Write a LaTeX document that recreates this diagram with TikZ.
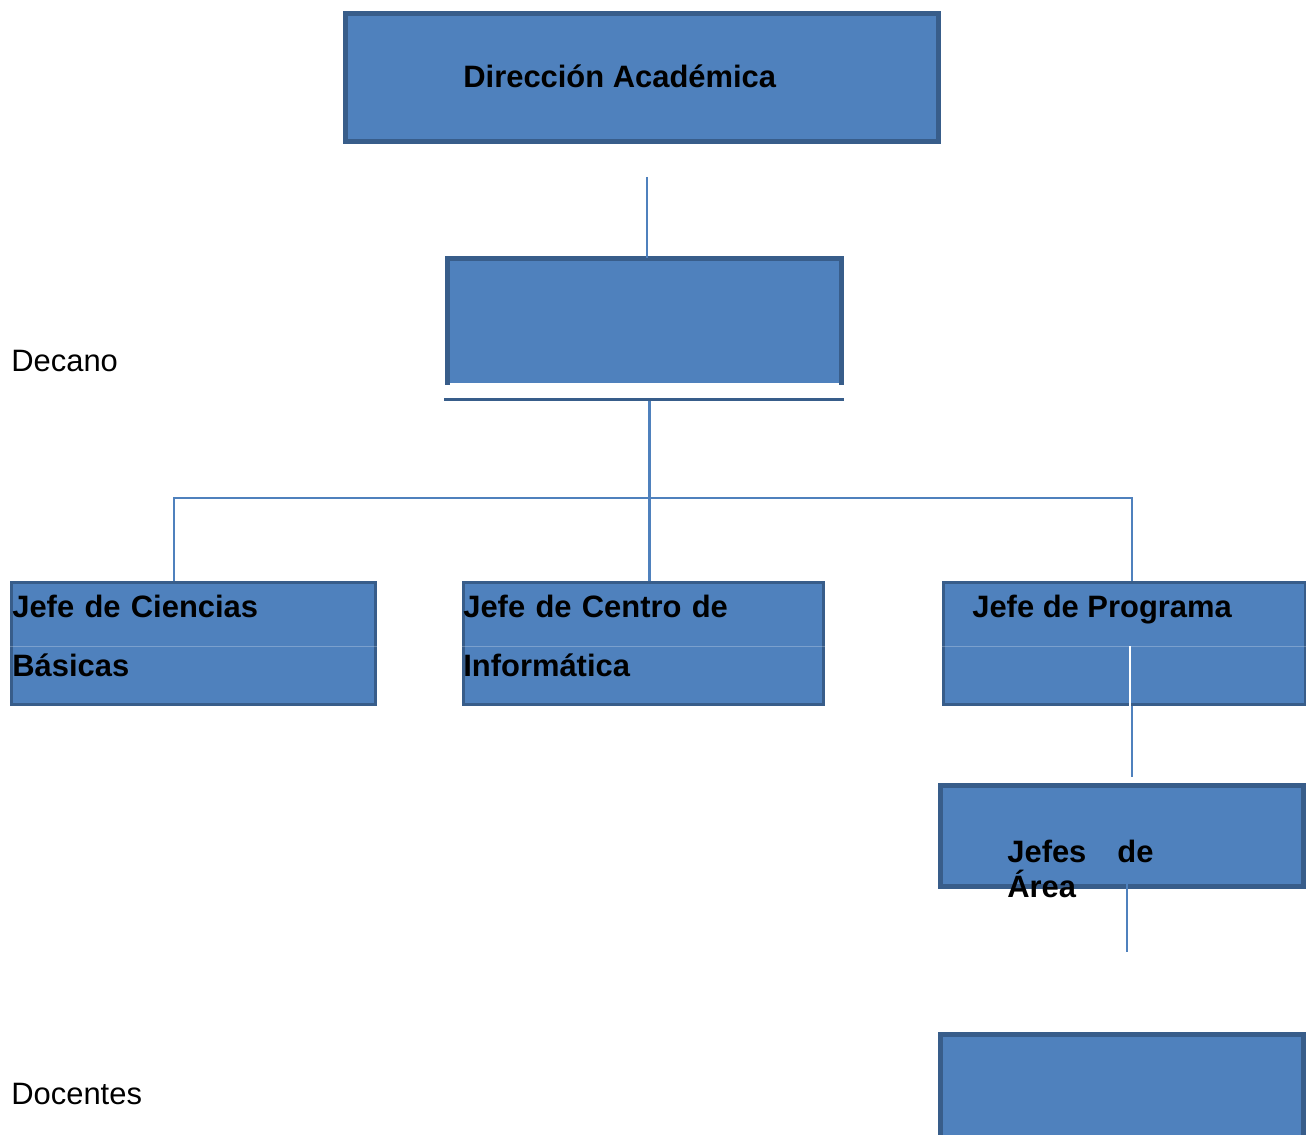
\documentclass[tikz,border=0pt]{standalone}
\usepackage{fontspec}
\setmainfont{Liberation Sans}
\usetikzlibrary{positioning, calc}
\definecolor{unitfill}{RGB}{79,129,189}
\definecolor{unitedge}{RGB}{56,93,138}
\definecolor{linkcolor}{RGB}{79,129,189}

\begin{document}
\begin{tikzpicture}[
    x=0.02cm, y=-0.02cm,
    unit/.style={draw=unitedge, fill=unitfill, line width=#1, inner sep=0pt, line join=miter},
    unit/.default=1.6pt,
    edge/.style={draw=unitedge, line width=2.8pt, line join=miter},
    link/.style={draw=linkcolor, line width=1.2pt},
    gap/.style={draw=white, line width=0.8pt},
    seam/.style={draw=white, opacity=0.25, line width=0.4pt},
    lbl/.style={font=\fontsize{17.6}{33.7}\selectfont\bfseries, inner sep=0pt, align=left, anchor=base west},
    side/.style={font=\fontsize{17.6}{21}\selectfont, inner sep=0pt, anchor=base west}
]
    \path[use as bounding box, clip] (0,0) rectangle (1315,1135);

    % Direccion Academica
    \node[unit=2.8pt, minimum width=11.86cm, minimum height=2.56cm] (dir) at (642,77.5) {};
    \node[lbl] (dirlbl) at (463,88) {Dirección Académica};

    % Decano (open at the bottom, bar below)
    \node[fill=unitfill, inner sep=0pt, minimum width=7.88cm, minimum height=2.49cm] (dec) at (644.5,320.75) {};
    \draw[edge] ([yshift=-0.03cm]dec.south west) -- (dec.north west) -- (dec.north east) -- ([yshift=-0.03cm]dec.south east);
    \coordinate (barL) at (444,399.5);
    \coordinate (barR) at (844,399.5);
    \draw[draw=unitedge, line width=1.4pt] (barL) -- (barR);
    \node[side] (declbl) at (11,371) {Decano};

    % Jefes
    \node[unit, minimum width=7.28cm, minimum height=2.44cm] (cien) at (193.5,643.5) {};
    \node[unit, minimum width=7.2cm, minimum height=2.44cm] (inf) at (643.5,643.5) {};
    \node[unit, minimum width=7.23cm, minimum height=2.44cm] (prog) at (1124.25,643.5) {};
    \draw[seam] (cien.west |- 0,646) -- (cien.east |- 0,646);
    \draw[seam] (inf.west |- 0,646) -- (inf.east |- 0,646);
    \draw[seam] (prog.west |- 0,646) -- (prog.east |- 0,646);
    \node[lbl, text width=7.2cm] (cienlbl) at (12,617) {Jefe de Ciencias\\Básicas};
    \node[lbl, text width=7.1cm] (inflbl) at (463,617) {Jefe de Centro de\\Informática};
    \node[lbl] (proglbl) at (972,617) {Jefe de Programa};

    % Jefes de Area
    \node[unit=2.6pt, minimum width=7.26cm, minimum height=2.02cm] (area) at (1122,836) {};

    % Docentes
    \node[unit=2.6pt, minimum width=7.26cm, minimum height=3.31cm] (doc) at (1122,1117.25) {};
    \node[side] (doclbl) at (11,1104) {Docentes};

    % Connections
    \coordinate (topend) at (647,177);
    \draw[link, line width=1pt] (topend) -- (topend |- dec.north);
    \coordinate (hub) at (649.5,401);
    \draw[link] (hub) -- (hub |- inf.north);
    \coordinate (jl) at (174,498);
    \coordinate (jr) at (1132,498);
    \draw[link] (jl |- cien.north) -- (jl) -- (jr) -- (jr |- prog.north);
    \coordinate (pw) at (1130,646);
    \draw[gap] (pw) -- (pw |- prog.south);
    \coordinate (pa) at (1132,777);
    \draw[link, line width=1.5pt] (pa |- prog.south) -- (pa);
    \coordinate (ad1) at (1127,876);
    \coordinate (ad2) at (1127,952);
    \draw[link] (ad1) -- (ad2);

    \node[lbl, text width=5cm, font=\fontsize{17.6}{20.4}\selectfont\bfseries] (arealbl) at (1007,862) {Jefes\hspace{0.62cm}de\\Área};
\end{tikzpicture}
\end{document}
